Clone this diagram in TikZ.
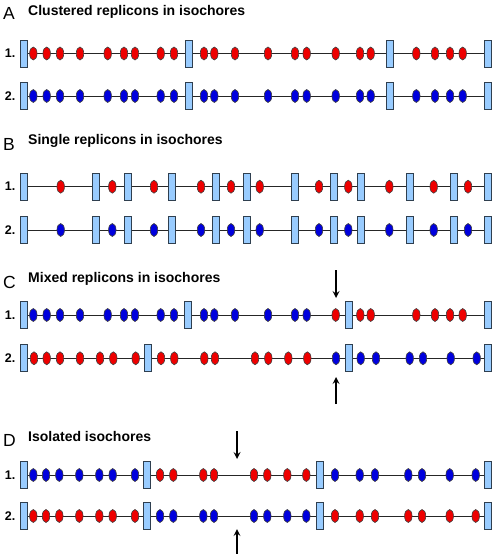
\documentclass[tikz,border=0pt]{standalone}
\usepackage{fontspec}
\setmainfont{Liberation Sans}
\usetikzlibrary{shapes.geometric, arrows, backgrounds}
\definecolor{isofill}{HTML}{99CCFF}
\definecolor{isoline}{HTML}{2F3F4F}
\definecolor{orired}{HTML}{EE0000}
\definecolor{oriblue}{HTML}{0000DD}
\tikzstyle{iso} = [rectangle, minimum width=7pt, minimum height=27pt, inner sep=0pt, draw=isoline, fill=isofill, line width=0.8pt]
\tikzstyle{ori} = [ellipse, minimum width=7.5pt, minimum height=13pt, inner sep=0pt, draw=black!75, line width=0.6pt]
\tikzstyle{rori} = [ori, fill=orired]
\tikzstyle{bori} = [ori, fill=oriblue]
\tikzstyle{chrom} = [line width=1pt, draw=black!85]
\tikzstyle{panel} = [anchor=base west, inner sep=0pt, font=\fontsize{17.5}{17.5}\selectfont]
\tikzstyle{title} = [anchor=base west, inner sep=0pt, font=\bfseries\fontsize{14}{14}\selectfont]
\tikzstyle{num} = [anchor=base east, inner sep=0pt, font=\bfseries\fontsize{12.5}{12.5}\selectfont]
\tikzstyle{arrow} = [line width=2pt, ->, >=stealth]

% one chromosome row: name, y, list of x/style
\newcommand{\isorow}[3]{%
  \foreach \x/\s [count=\i] in {#3} {
    \node (#1-\i) [\s] at (\x,#2) {};
    \xdef\rowlast{\i}
  }
  \begin{pgfonlayer}{background}
    \draw [chrom] (#1-1) -- (#1-\rowlast);
  \end{pgfonlayer}
}

\begin{document}
\begin{tikzpicture}[x=1pt, y=-1pt]
\useasboundingbox (0,0) rectangle (494,554);

% A
\node (Aletter) [panel] at (3,19.5) {A};
\node (Atitle) [title] at (28,15) {Clustered replicons in isochores};
\node (A1num) [num] at (15.5,57.5) {1.};
\node (A2num) [num] at (15.5,100) {2.};
\isorow{A1}{53.5}{24/iso, 33.3/rori, 46.7/rori, 60/rori, 80/rori, 107.7/rori, 124/rori, 135/rori, 160.7/rori, 174/rori, 188.7/iso, 204/rori, 214.3/rori, 235/rori, 268/rori, 295/rori, 306.7/rori, 335.7/rori, 360/rori, 370.7/rori, 390/iso, 416.3/rori, 435/rori, 450/rori, 462.7/rori, 488.3/iso}
\isorow{A2}{96}{24/iso, 33.3/bori, 46.7/bori, 60/bori, 80/bori, 107.7/bori, 124/bori, 135/bori, 160.7/bori, 174/bori, 188.7/iso, 204/bori, 214.3/bori, 235/bori, 268/bori, 295/bori, 306.7/bori, 335.7/bori, 360/bori, 370.7/bori, 390/iso, 416.3/bori, 435/bori, 450/bori, 462.7/bori, 488.3/iso}

% B
\node (Bletter) [panel] at (3,150) {B};
\node (Btitle) [title] at (28,144) {Single replicons in isochores};
\node (B1num) [num] at (15.5,190.7) {1.};
\node (B2num) [num] at (15.5,234) {2.};
\isorow{B1}{186.7}{24.3/iso, 60.7/rori, 95.7/iso, 112.3/rori, 128/iso, 154/rori, 172/iso, 201/rori, 215.7/iso, 231/rori, 247/iso, 259.7/rori, 295/iso, 319/rori, 334/iso, 348.3/rori, 361/iso, 389.3/rori, 409.7/iso, 433.7/rori, 454/iso, 468/rori, 488.3/iso}
\isorow{B2}{230}{24.3/iso, 60.7/bori, 95.7/iso, 112.3/bori, 128/iso, 154/bori, 172/iso, 201/bori, 215.7/iso, 231/bori, 247/iso, 259.7/bori, 295/iso, 319/bori, 334/iso, 348.3/bori, 361/iso, 389.3/bori, 409.7/iso, 433.7/bori, 454/iso, 468/bori, 488.3/iso}

% C
\node (Cletter) [panel] at (3,288.5) {C};
\node (Ctitle) [title] at (28,282.7) {Mixed replicons in isochores};
\node (C1num) [num] at (15.5,319) {1.};
\node (C2num) [num] at (15.5,362.3) {2.};
\isorow{C1}{315}{24/iso, 33.3/bori, 46.7/bori, 60/bori, 80/bori, 107.7/bori, 124/bori, 135/bori, 160.7/bori, 174/bori, 187.5/iso, 204/bori, 214.3/bori, 235/bori, 268/bori, 295/bori, 306.7/bori, 335.7/rori, 348.7/iso, 360.3/rori, 370.7/rori, 416.3/rori, 435/rori, 450/rori, 462.7/rori, 488.3/iso}
\isorow{C2}{358.3}{24/iso, 34/rori, 46.7/rori, 60/rori, 80/rori, 100/rori, 113.3/rori, 135.7/rori, 147.7/iso, 161/rori, 174.3/rori, 204.3/rori, 215/rori, 255/rori, 268.3/rori, 288.3/rori, 307.3/rori, 336/bori, 349.3/iso, 360.7/bori, 376/bori, 409.7/bori, 423/bori, 450.7/bori, 476.7/bori, 488.3/iso}
\coordinate (Cdownstart) at (336,270);
\coordinate (Cdownend) at (336,298);
\coordinate (Cupstart) at (336,404);
\coordinate (Cupend) at (336,377);
\draw [arrow] (Cdownstart) -- (Cdownend);
\draw [arrow] (Cupstart) -- (Cupend);

% D
\node (Dletter) [panel] at (3,446.7) {D};
\node (Dtitle) [title] at (28,441.7) {Isolated isochores};
\node (D1num) [num] at (15.5,479) {1.};
\node (D2num) [num] at (15.5,520) {2.};
\isorow{D1}{475}{24/iso, 33.3/bori, 46/bori, 59.3/bori, 79.3/bori, 99.3/bori, 112.7/bori, 135/bori, 147/iso, 160/rori, 173.3/rori, 203.3/rori, 214/rori, 254/rori, 267.3/rori, 287.3/rori, 306.3/rori, 320/iso, 335/bori, 359.7/bori, 375/bori, 408.3/bori, 422/bori, 449.7/bori, 475.7/bori, 488.3/iso}
\isorow{D2}{516}{24/iso, 33.3/rori, 46/rori, 59.3/rori, 79.3/rori, 99.3/rori, 112.7/rori, 135/rori, 147/iso, 160/bori, 173.3/bori, 203.3/bori, 214/bori, 254/bori, 267.3/bori, 287.3/bori, 306.3/bori, 320/iso, 335/rori, 359.7/rori, 375/rori, 408.3/rori, 422/rori, 449.7/rori, 475.7/rori, 488.3/iso}
\coordinate (Ddownstart) at (237,431);
\coordinate (Ddownend) at (237,459);
\coordinate (Dupstart) at (237,554);
\coordinate (Dupend) at (237,529);
\draw [arrow] (Ddownstart) -- (Ddownend);
\draw [arrow] (Dupstart) -- (Dupend);

\end{tikzpicture}
\end{document}
